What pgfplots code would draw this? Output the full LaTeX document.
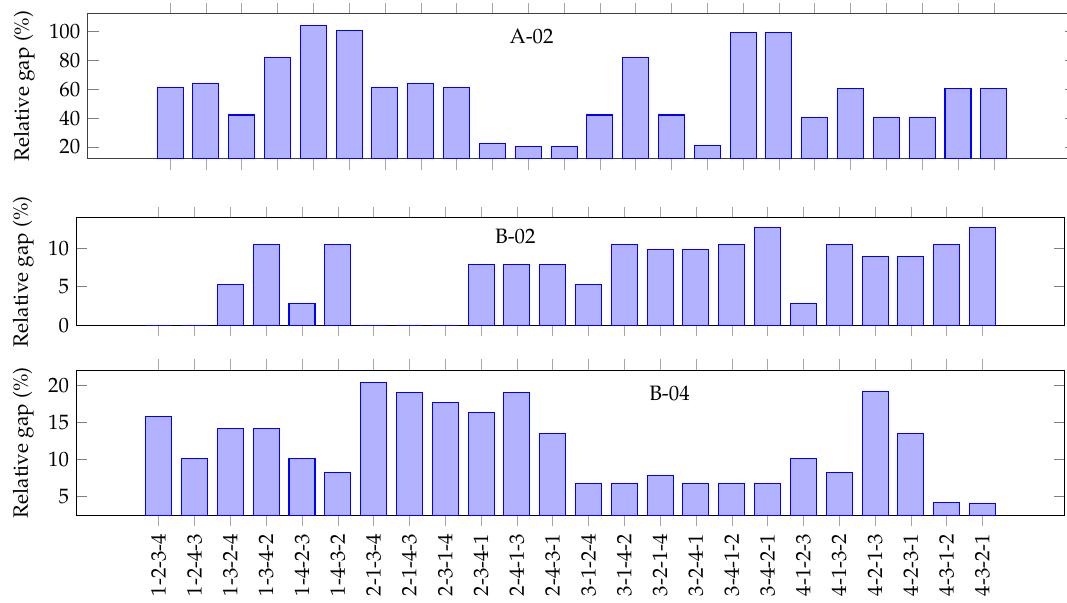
\documentclass[border=0pt]{standalone}
\usepackage[T1]{fontenc}
\usepackage{mathpazo}
\usepackage{pgfplots}
\usepackage{pgfplotstable}
\pgfplotsset{compat=1.18}

\pgfplotstableread{
x y
0 61.2
1 63.9
2 42.2
3 82.2
4 104.4
5 100.7
6 61.2
7 63.9
8 61.2
9 22.3
10 20.5
11 20.5
12 42.2
13 82.2
14 42.2
15 21.2
16 99.3
17 99.3
18 40.6
19 60.5
20 40.6
21 40.6
22 60.5
23 60.5
}\dataA

\pgfplotstableread{
x y
0 0
1 0
2 5.30
3 10.47
4 2.84
5 10.47
6 0
7 0
8 0
9 7.89
10 7.89
11 7.89
12 5.30
13 10.47
14 9.78
15 9.78
16 10.47
17 12.59
18 2.84
19 10.47
20 8.92
21 8.92
22 10.47
23 12.59
}\dataB

\pgfplotstableread{
x y
0 15.81
1 10.14
2 14.19
3 14.19
4 10.14
5 8.24
6 20.41
7 19.05
8 17.70
9 16.35
10 19.05
11 13.51
12 6.76
13 6.76
14 7.84
15 6.71
16 6.76
17 6.71
18 10.14
19 8.24
20 19.10
21 13.51
22 4.19
23 4.05
}\dataC

\pgfplotsset{
  gapstyle/.style={
    ybar, bar width=10pt,
    scale only axis, width=380.2pt,
    xmin=-2.3, xmax=25.3, enlargelimits=false,
    xtick={0,...,23},
    xtick align=outside,
    ytick align=inside,
    major tick length=4.27pt,
    xtick style={gray!70},
    ytick style={gray},
    ylabel={Relative gap (\%)},
    clip=true,
  }
}

\begin{document}
\fontsize{8}{9.6}\selectfont
\begin{tikzpicture}
\begin{axis}[gapstyle, at={(33.73pt,-61.04pt)}, anchor=south west,
    height=55.8pt, ymin=11.9, ymax=112.5,
    ytick={20,40,60,80,100}, xticklabel=\empty,
    axis line style={black!75}]
  \addplot[draw=blue, fill=blue!30!white] table[x=x,y=y]{\dataA};
  \node at (rel axis cs:0.449,0.84) {A-02};
\end{axis}

\begin{axis}[gapstyle, at={(29.38pt,-125.12pt)}, anchor=south west,
    height=41.3pt, ymin=0, ymax=13.88,
    ytick={0,5,10}, xticklabel=\empty]
  \addplot[draw=blue, fill=blue!30!white] table[x=x,y=y]{\dataB};
  \node at (rel axis cs:0.444,0.823) {B-02};
\end{axis}

\begin{axis}[gapstyle, at={(29.38pt,-198.19pt)}, anchor=south west,
    height=55.8pt, ymin=2.43, ymax=22.03,
    ytick={5,10,15,20},
    xticklabels={1-2-3-4,1-2-4-3,1-3-2-4,1-3-4-2,1-4-2-3,1-4-3-2,2-1-3-4,2-1-4-3,2-3-1-4,2-3-4-1,2-4-1-3,2-4-3-1,3-1-2-4,3-1-4-2,3-2-1-4,3-2-4-1,3-4-1-2,3-4-2-1,4-1-2-3,4-1-3-2,4-2-1-3,4-2-3-1,4-3-1-2,4-3-2-1},
    xticklabel style={rotate=90, anchor=east}]
  \addplot[draw=blue, fill=blue!30!white] table[x=x,y=y]{\dataC};
  \node at (rel axis cs:0.600,0.84) {B-04};
\end{axis}

\pgfresetboundingbox
\path[use as bounding box] (0,0) rectangle (410.4pt,-231.9pt);
\end{tikzpicture}
\end{document}
